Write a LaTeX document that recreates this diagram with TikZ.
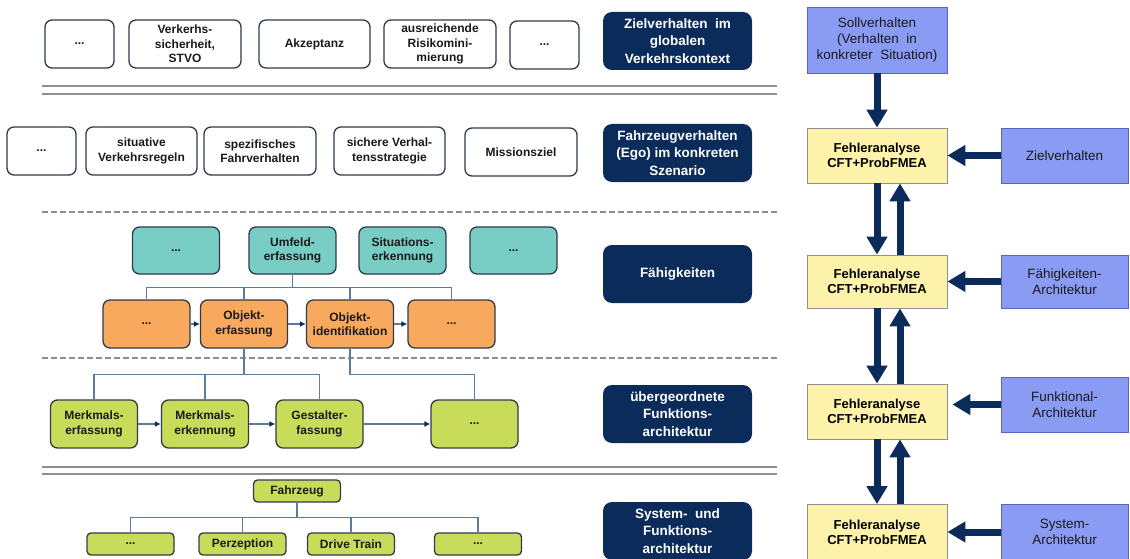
\documentclass[tikz,border=0pt]{standalone}
\usepackage{fontspec}
\setmainfont{Liberation Sans}
\usetikzlibrary{arrows.meta}

\definecolor{navy}{HTML}{0B2C5A}
\definecolor{tealfill}{HTML}{78CDC5}
\definecolor{orangefill}{HTML}{F9A95E}
\definecolor{limefill}{HTML}{C8DC5A}
\definecolor{yellowfill}{HTML}{FDF2AA}
\definecolor{bluefill}{HTML}{8A9BF3}
\definecolor{blueedge}{HTML}{5665C0}
\definecolor{boxedge}{HTML}{2F3B4C}
\definecolor{treeline}{HTML}{5B7BA0}
\definecolor{sepgray}{HTML}{8F8F8F}
\definecolor{txt}{HTML}{1A1A1A}

\tikzset{
  basebox/.style={rounded corners=7pt, draw=boxedge, line width=1.3pt, align=center,
    inner sep=0pt, text=txt, font=\fontsize{12}{14.3}\selectfont\bfseries},
  wbox/.style={basebox, fill=white, minimum height=48pt},
  tbox/.style={basebox, fill=tealfill, minimum width=87pt, minimum height=47pt},
  obox/.style={basebox, fill=orangefill, minimum width=87pt, minimum height=48pt},
  gbox/.style={basebox, fill=limefill, minimum width=87pt, minimum height=48pt},
  sbox/.style={basebox, fill=limefill, minimum width=87pt, minimum height=22pt, rounded corners=4pt},
  levelbox/.style={rounded corners=9pt, fill=navy, draw=none, align=center, text=white,
    minimum width=149pt, minimum height=58pt, inner sep=0pt,
    font=\fontsize{13.5}{17.7}\selectfont\bfseries},
  fabox/.style={rectangle, fill=yellowfill, draw=sepgray, line width=0.8pt, align=center,
    minimum width=140pt, minimum height=55pt, inner sep=0pt, text=black,
    font=\fontsize{13}{15.3}\selectfont\bfseries},
  inbox/.style={rectangle, fill=bluefill, draw=blueedge, line width=0.8pt, align=center,
    minimum width=127pt, minimum height=55pt, inner sep=0pt, text=txt,
    font=\fontsize{13.5}{15.6}\selectfont},
  tree/.style={draw=treeline, line width=1.2pt},
  flow/.style={draw=treeline, line width=1.2pt, -{Latex[length=6pt,width=6pt]}, arrows={-{Latex[length=6pt,width=6pt,color=navy]}}},
  bigarrow/.style={draw=navy, line width=7pt, -{Triangle[width=20pt,length=18pt]}},
  sepline/.style={draw=sepgray, line width=1.8pt},
  sepdash/.style={draw=sepgray, line width=1.8pt, dash pattern=on 6pt off 3pt},
}

\begin{document}
\begin{tikzpicture}[x=1pt, y=-1pt]
\useasboundingbox (0,0) rectangle (1130,559);

% ---------- separators between the levels ----------
\coordinate (sl) at (42,0);
\coordinate (sr) at (777,0);
\draw[sepline] (42,86) -- (777,86);
\draw[sepline] (42,94) -- (777,94);
\draw[sepdash] (42,212) -- (777,212);
\draw[sepdash] (42,358) -- (777,358);
\draw[sepline] (42,467) -- (777,467);
\draw[sepline] (42,474) -- (777,474);

% ---------- level 1: target behaviour ----------
\node[wbox, minimum width=69pt]  (r1a) at (79.5,44) {...};
\node[wbox, minimum width=112pt] (r1b) at (185,44) {Verkerhs-\\sicherheit,\\STVO};
\node[wbox, minimum width=111pt] (r1c) at (314.5,44) {Akzeptanz};
\node[wbox, minimum width=112pt] (r1d) at (440,44) {ausreichende\\Risikomini-\\mierung};
\node[wbox, minimum width=69pt]  (r1e) at (544.5,45) {...};
\node[levelbox] (lv1) at (677.5,41) {Zielverhalten\ \ im\\globalen\\Verkehrskontext};

% ---------- level 2: vehicle behaviour ----------
\node[wbox, minimum width=69pt]  (r2a) at (41.5,151) {...};
\node[wbox, minimum width=111pt] (r2b) at (141.5,151) {situative\\Verkehrsregeln};
\node[wbox, minimum width=112pt] (r2c) at (260,151) {spezifisches\\Fahrverhalten};
\node[wbox, minimum width=111pt] (r2d) at (389.5,151) {sichere Verhal-\\tensstrategie};
\node[wbox, minimum width=112pt] (r2e) at (521,152) {Missionsziel};
\node[levelbox] (lv2) at (677.5,153) {Fahrzeugverhalten\\(Ego) im konkreten\\Szenario};

% ---------- level 3: capabilities ----------
\node[tbox] (t1) at (176,250.5) {...};
\node[tbox] (t2) at (292.5,250.5) {Umfeld-\\erfassung};
\node[tbox] (t3) at (402.5,250.5) {Situations-\\erkennung};
\node[tbox] (t4) at (513.5,250.5) {...};

\node[obox] (o1) at (146.5,324) {...};
\node[obox] (o2) at (244,324) {Objekt-\\erfassung};
\node[obox] (o3) at (350,324) {Objekt-\\identifikation};
\node[obox] (o4) at (451.5,324) {...};
\node[levelbox] (lv3) at (677.5,274) {Fähigkeiten};

\foreach \c in {o1,o2,o3,o4}
  \draw[tree] (t2.south) -- ++(0,13) -| (\c.north);
\draw[flow] (o1) -- (o2);
\draw[flow] (o2) -- (o3);
\draw[flow] (o3) -- (o4);

% ---------- level 4: functional architecture ----------
\node[gbox] (g1) at (94,424) {Merkmals-\\erfassung};
\node[gbox] (g2) at (205,424) {Merkmals-\\erkennung};
\node[gbox] (g3) at (319.5,424) {Gestalter-\\fassung};
\node[gbox] (g4) at (474.5,424) {...};
\node[levelbox] (lv4) at (677.5,414) {übergeordnete\\Funktions-\\architektur};

\foreach \c in {g1,g2,g3}
  \draw[tree] (o2.south) -- ++(0,26) -| (\c.north);
\draw[tree] (o3.south) -- ++(0,26) -| (g4.north);
\draw[flow] (g1) -- (g2);
\draw[flow] (g2) -- (g3);
\draw[flow] (g3) -- (g4);

% ---------- level 5: system architecture ----------
\node[sbox] (fz) at (297,491) {Fahrzeug};
\node[sbox] (b1) at (130.5,544) {...};
\node[sbox] (b2) at (242.5,544) {Perzeption};
\node[sbox] (b3) at (351,544) {Drive Train};
\node[sbox] (b4) at (478,544) {...};
\node[levelbox] (lv5) at (677.5,531) {System-\ \ und\\Funktions-\\architektur};

\foreach \c in {b1,b2,b3,b4}
  \draw[tree] (fz.south) -- ++(0,15) -| (\c.north);

% ---------- failure analysis chain ----------
\node[inbox, minimum width=140pt, minimum height=66pt] (soll) at (877,40)
  {Sollverhalten\\(Verhalten\ \ in\\konkreter\ \ Situation)};
\node[fabox] (fa1) at (877,155.5) {Fehleranalyse\\CFT+ProbFMEA};
\node[fabox, minimum height=53pt] (fa2) at (877,281.5) {Fehleranalyse\\CFT+ProbFMEA};
\node[fabox] (fa3) at (877,411.5) {Fehleranalyse\\CFT+ProbFMEA};
\node[fabox] (fa4) at (877,532) {Fehleranalyse\\CFT+ProbFMEA};

\node[inbox] (ziel) at (1064.5,155.5) {Zielverhalten};
\node[inbox, minimum height=53pt] (fab) at (1064.5,281.5) {Fähigkeiten-\\Architektur};
\node[inbox] (funk) at (1064.5,404.5) {Funktional-\\Architektur};
\node[inbox] (sys) at (1064.5,532) {System-\\Architektur};

\draw[bigarrow] (soll.south) -- (fa1.north);
\draw[bigarrow] (fa1.south) -- (fa2.north);
\draw[bigarrow] ([xshift=23pt]fa2.north) -- ([xshift=23pt]fa1.south);
\draw[bigarrow] (fa2.south) -- (fa3.north);
\draw[bigarrow] ([xshift=23pt]fa3.north) -- ([xshift=23pt]fa2.south);
\draw[bigarrow] (fa3.south) -- (fa4.north);
\draw[bigarrow] ([xshift=23pt]fa4.north) -- ([xshift=23pt]fa3.south);

\draw[bigarrow] (ziel.west) -- (ziel.west -| fa1.east);
\draw[bigarrow] (fab.west) -- (fab.west -| fa2.east);
\draw[bigarrow, shorten >=5pt] (funk.west) -- (funk.west -| fa3.east);
\draw[bigarrow] (sys.west) -- (sys.west -| fa4.east);
\end{tikzpicture}
\end{document}
